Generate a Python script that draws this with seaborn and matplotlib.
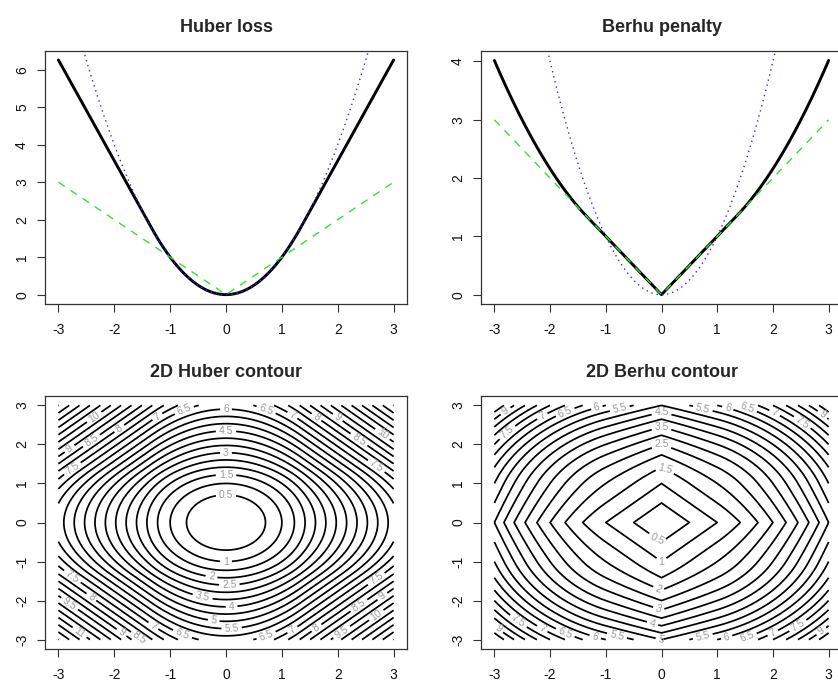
import numpy as np
import pandas as pd
import matplotlib
matplotlib.use("Agg")
import matplotlib.pyplot as plt
import seaborn as sns

# thresholds: classic Huber constant for the curves and the Huber contour,
# unit threshold for the 2D Berhu contour
DELTA = 1.345
BERHU_2D_DELTA = 1.0

x_curve = np.linspace(-3, 3, 601)
grid_1d = np.linspace(-3, 3, 121)

huber_levels = [0.5, 1, 1.5, 2, 2.5, 3, 3.5, 4, 4.5, 5, 5.5, 6, 6.5, 7, 7.5,
                8, 8.5, 9, 9.5, 10, 10.5, 11, 11.5, 12, 12.5]
berhu_levels = [0.5, 1, 1.5, 2, 2.5, 3, 3.5, 4, 4.5, 5, 5.5, 6, 6.5, 7, 7.5,
                8, 8.5, 9, 9.5]

titles = ["Huber loss", "Berhu penalty", "2D Huber contour", "2D Berhu contour"]
tick_vals = [-3, -2, -1, 0, 1, 2, 3]

# where the contour labels sit: (level, x, +1 upper half / -1 lower half)
huber_label_spec = [
    (0.5, 0, 1), (1.5, 0, 1), (3, 0, 1), (4.5, 0, 1), (6, 0, 1),
    (1, 0, -1), (2, -0.26, -1), (2.5, 0.06, -1), (3.5, -0.42, -1),
    (4, 0.1, -1), (5, -0.22, -1), (5.5, 0.1, -1),
    (6.5, -0.75, 1), (7, -1.23, 1), (8, -1.91, 1), (8.5, -2.41, 1),
    (10, -2.36, 1), (9, -2.8, 1), (7.5, -2.75, 1),
    (6.5, 0.72, 1), (7, 1.19, 1), (8, 1.62, 1), (9, 2.0, 1),
    (10, 2.8, 1), (8.5, 2.38, 1), (7.5, 2.69, 1),
    (6.5, -0.78, -1), (7, -1.3, -1), (8.5, -1.55, -1), (9, -1.87, -1),
    (8, -2.41, -1), (9.5, -2.8, -1), (7.5, -2.75, -1), (11, -2.62, -1),
    (6.5, 0.72, -1), (7, 1.19, -1), (8, 1.62, -1), (9.5, 2.07, -1),
    (10, 2.69, -1), (8.5, 2.38, -1), (9, 2.8, -1), (7.5, 2.69, -1),
]
berhu_label_spec = [
    (1.5, 0.06, 1), (2.5, 0, 1), (3.5, 0, 1), (4.5, 0, 1),
    (0.5, -0.07, -1), (1, 0, -1), (2, -0.05, -1), (3, -0.05, -1),
    (4, -0.16, -1), (5, 0, -1),
    (5.5, -0.75, 1), (6, -1.16, 1), (6.5, -1.73, 1), (7, -2.14, 1),
    (7.5, -2.77, 1), (9, -2.8, 1),
    (5.5, 0.74, 1), (6, 1.19, 1), (6.5, 1.54, 1), (7, 2.03, 1),
    (7.5, 2.53, 1), (9, 2.89, 1),
    (5.5, -0.8, -1), (6, -1.19, -1), (6.5, -1.73, -1), (7, -2.14, -1),
    (7.5, -2.57, -1), (9, -2.93, -1),
    (5.5, 0.74, -1), (6, 1.17, -1), (6.5, 1.54, -1), (7, 2.0, -1),
    (7.5, 2.45, -1), (9, 2.87, -1),
]


def huber(x, d=DELTA):
    a = np.abs(x)
    return np.where(a <= d, x ** 2, 2 * d * a - d ** 2)


def huber_inv(v, d=DELTA):
    return np.sqrt(v) if v <= d ** 2 else (v + d ** 2) / (2 * d)


def berhu(x, d=DELTA):
    a = np.abs(x)
    return np.where(a <= d, a, (x ** 2 + d ** 2) / (2 * d))


def berhu_inv(v, d=DELTA):
    return v if v <= d else np.sqrt(max(2 * d * v - d ** 2, 0))


def berhu2(x):
    return berhu(x, BERHU_2D_DELTA)


def berhu2_inv(v):
    return berhu_inv(v, BERHU_2D_DELTA)


def label_points(spec, fn, inv):
    pts = []
    for lev, x, side in spec:
        rest = max(lev - float(fn(x)), 0)
        y = min(inv(rest), 2.99)
        pts.append((x, side * y))
    return pts


sns.set_theme(style="ticks")
plt.rcParams['font.family'] = ['Liberation Sans', 'DejaVu Sans']
plt.rcParams['axes.unicode_minus'] = False

W, H = 838, 681
fig = plt.figure(figsize=(W / 100, H / 100), dpi=100)

boxes = {
    0: [45 / W, 1 - 304 / H, 362 / W, 253 / H],
    1: [481 / W, 1 - 304 / H, 361 / W, 253 / H],
    2: [45 / W, 1 - 649 / H, 362 / W, 253 / H],
    3: [481 / W, 1 - 649 / H, 361 / W, 253 / H],
}
axes = [fig.add_axes(boxes[i]) for i in range(4)]


def style_axis(ax, title, yticks):
    for s in ax.spines.values():
        s.set_visible(True)
        s.set_color('#333333')
        s.set_linewidth(0.9)
    ax.set_xticks(tick_vals)
    ax.set_yticks(yticks)
    ax.tick_params(axis='both', direction='out', length=5.5, width=0.8,
                   color='#333333', labelsize=10, labelcolor='#111111')
    ax.tick_params(axis='x', pad=8)
    ax.tick_params(axis='y', pad=6, labelrotation=90)
    for lab in ax.get_yticklabels():
        lab.set_va('center')
    ax.set_xlabel('')
    ax.set_ylabel('')
    ax.set_title(title, fontsize=13, fontweight='bold', pad=14)


def draw_curves(ax, fn):
    df = pd.DataFrame({'x': x_curve, 'loss': fn(x_curve),
                       'sq': x_curve ** 2, 'ab': np.abs(x_curve)})
    sns.lineplot(data=df, x='x', y='loss', ax=ax, color='black', lw=2.1,
                 estimator=None, sort=False)
    sns.lineplot(data=df, x='x', y='sq', ax=ax, color='#2a2aff', lw=1.0,
                 estimator=None, sort=False)
    ax.lines[-1].set_dashes((1, 2.8))
    sns.lineplot(data=df, x='x', y='ab', ax=ax, color='#33e033', lw=1.0,
                 estimator=None, sort=False)
    ax.lines[-1].set_dashes((5.5, 5))


# top row: 1D penalties
draw_curves(axes[0], huber)
axes[0].set_xlim(-3.24, 3.24)
axes[0].set_ylim(-0.25, 6.5)
style_axis(axes[0], titles[0], [0, 1, 2, 3, 4, 5, 6])

draw_curves(axes[1], berhu)
axes[1].set_xlim(-3.24, 3.24)
axes[1].set_ylim(-0.16, 4.18)
style_axis(axes[1], titles[1], [0, 1, 2, 3, 4])

# bottom row: 2D contours
gx, gy = np.meshgrid(grid_1d, grid_1d)
panels = [(axes[2], huber, huber_inv, huber_levels, huber_label_spec, titles[2]),
          (axes[3], berhu2, berhu2_inv, berhu_levels, berhu_label_spec, titles[3])]
for ax, fn, inv, lev, spec, title in panels:
    z = fn(gx) + fn(gy)
    ax.set_xlim(-3.24, 3.24)
    ax.set_ylim(-3.24, 3.24)
    cs = ax.contour(gx, gy, z, levels=lev, colors='black', linewidths=1.25)
    ax.clabel(cs, inline=True, fontsize=7.5, colors='#9a9a9a', fmt='%g',
              inline_spacing=3, manual=label_points(spec, fn, inv))
    style_axis(ax, title, tick_vals)

fig.savefig('out.png', dpi=100, facecolor='white')
